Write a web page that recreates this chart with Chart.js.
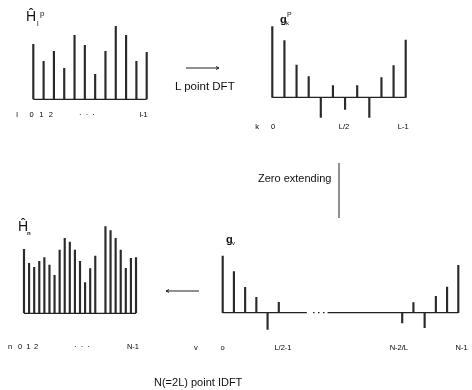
<!DOCTYPE html>
<html>
<head>
<meta charset="utf-8">
<script src="https://cdn.jsdelivr.net/npm/chart.js@4.4.0/dist/chart.umd.min.js"></script>
<style>
    body { margin: 0; background: #fff; }
    #wrap { position: relative; width: 472px; height: 390px; overflow: hidden;
            font-family: "Liberation Sans", Arial, sans-serif; color: #111; }
    #wrap canvas { position: absolute; left: 0; top: 0; }
    .t { position: absolute; white-space: nowrap; line-height: 1; }
    svg { position: absolute; left: 0; top: 0; }
</style>
</head>
<body>
<div id="wrap">
    <canvas id="hlpChart" width="472" height="390"></canvas>
    <canvas id="gkpChart" width="472" height="390"></canvas>
    <canvas id="hnChart" width="472" height="390"></canvas>
    <canvas id="gvChart" width="472" height="390"></canvas>

    <svg width="472" height="390">
        <g stroke="#222" stroke-width="1" fill="none">
            <line x1="186" y1="68" x2="219" y2="68"/>
            <polyline points="216,66.5 219,68 216,69.5"/>
            <line x1="166" y1="291" x2="199" y2="291"/>
            <polyline points="169,289.5 166,291 169,292.5"/>
            <line x1="339" y1="163" x2="339" y2="218"/>
        </g>
    </svg>

    <!-- titles -->
    <div class="t" style="left:26px;top:9px;font-size:14px;">Ĥ</div>
    <div class="t" style="left:37px;top:20px;font-size:7px;">l</div>
    <div class="t" style="left:40px;top:10px;font-size:8px;">p</div>

    <div class="t" style="left:280px;top:14px;font-size:11px;font-weight:bold;">g</div>
    <div class="t" style="left:286px;top:20px;font-size:6px;">k</div>
    <div class="t" style="left:287px;top:11px;font-size:7px;">P</div>

    <div class="t" style="left:18px;top:219px;font-size:14px;">Ĥ</div>
    <div class="t" style="left:27px;top:230px;font-size:6px;font-weight:bold;">n</div>

    <div class="t" style="left:226px;top:234px;font-size:11px;font-weight:bold;">g</div>
    <div class="t" style="left:232px;top:240px;font-size:6px;">v</div>

    <!-- captions -->
    <div class="t" style="left:175px;top:81px;font-size:11.5px;">L point DFT</div>
    <div class="t" style="left:258px;top:173px;font-size:11px;">Zero extending</div>
    <div class="t" style="left:154px;top:377px;font-size:11px;">N(=2L) point IDFT</div>
</div>

<script>
// Ĥ_l^p : L point input
const hlpLabels = ['0', '1', '2', '3', '4', '5', '6', '7', '8', '9', '10', '11'];
const hlpValues = [55, 38, 48, 31, 64, 54, 25, 48, 73, 64, 38, 47];
const hlpTickPos = [-1.58, -0.16, 0.78, 1.69, 5.2, 10.7];
const hlpTickText = ['l', '0', '1', '2', '·  ·  ·', 'l-1'];

// g_k^p : L point DFT
const gkpLabels = ['0', '1', '2', '3', '4', '5', '6', '7', '8', '9', '10', '11'];
const gkpValues = [70.7, 56.7, 32.3, 20.7, -20, 11.7, -12, 11.7, -20, 19.7, 31.7, 57.3];
const gkpTickPos = [-1.26, 0.06, 5.91, 10.8];
const gkpTickText = ['k', '0', 'L/2', 'L-1'];

// Ĥ_n : N point output
const hnLabels = ['0', '1', '2', '3', '4', '5', '6', '7', '8', '9', '10', '11',
                  '12', '13', '14', '15', '16', '17', '18', '19', '20', '21', '22'];
const hnValues = [64, 50, 46, 52, 55.7, 48.3, 38, 63.3, 75, 71.3, 63.3, 52,
                  30.7, 44.7, 57.3, 0, 86.7, 82.7, 75, 63.3, 45, 55, 55.7];
const hnTickPos = [-2.75, -0.79, 0.85, 2.36, 11.4, 21.4];
const hnTickText = ['n', '0', '1', '2', '·  ·  ·', 'N-1'];

// g_v : zero extended sequence (middle part is zero)
const gvLabels = ['0', '1', '2', '3', '4', '5', '6', '7', '8', '9', '10', '11',
                  '12', '13', '14', '15', '16', '17', '18', '19', '20', '21'];
const gvValues = [56.7, 41, 25.3, 15.3, -16.7, 10.3, null, null, null, null, null, null,
                  null, null, null, null, -10.3, 10, -15, 16.3, 25.7, 47.3];
const gvTickPos = [-2.4, 0, 5.37, 15.7, 21.3];
const gvTickText = ['v', 'o', 'L/2-1', 'N-2/L', 'N-1'];

// baseline and the labels under it
const stemAxis = {
    id: 'stemAxis',
    afterDatasetsDraw(chart, args, opts) {
        const ctx = chart.ctx;
        const xs = chart.scales.x;
        const y0 = chart.scales.y.getPixelForValue(0);
        ctx.save();
        ctx.strokeStyle = '#222';
        ctx.lineWidth = 1.3;
        opts.segments.forEach(seg => {
            ctx.setLineDash(seg[2] ? [1.5, 3.5] : []);
            ctx.beginPath();
            ctx.moveTo(xs.getPixelForValue(seg[0]), y0);
            ctx.lineTo(xs.getPixelForValue(seg[1]), y0);
            ctx.stroke();
        });
        ctx.setLineDash([]);
        ctx.fillStyle = '#000';
        ctx.font = '7.5px "Liberation Sans", Arial, sans-serif';
        ctx.textAlign = 'center';
        ctx.textBaseline = 'middle';
        opts.tickPos.forEach((p, i) => {
            ctx.fillText(opts.tickText[i], xs.getPixelForValue(p), y0 + opts.gap);
        });
        ctx.restore();
    }
};

function stemChart(id, labels, values, box, axis) {
    const n = labels.length;
    const step = (box.xLast - box.x0) / (n - 1);
    return new Chart(document.getElementById(id), {
        type: 'bar',
        data: {
            labels: labels,
            datasets: [{
                data: values,
                backgroundColor: '#2a2a2a',
                borderWidth: 0,
                barThickness: 1.5
            }]
        },
        options: {
            responsive: false,
            animation: false,
            events: [],
            layout: {
                padding: {
                    left: box.x0 - step / 2,
                    right: 472 - (box.xLast + step / 2),
                    top: box.base - box.yMax,
                    bottom: 390 - (box.base - box.yMin)
                }
            },
            plugins: {
                legend: { display: false },
                tooltip: { enabled: false },
                stemAxis: axis
            },
            scales: {
                x: { display: false, offset: true },
                y: { display: false, min: box.yMin, max: box.yMax }
            }
        },
        plugins: [stemAxis]
    });
}

stemChart('hlpChart', hlpLabels, hlpValues,
    { x0: 33.3, xLast: 146.7, base: 99.3, yMin: 0, yMax: 80 },
    { segments: [[0, 11]], tickPos: hlpTickPos, tickText: hlpTickText, gap: 16 });

stemChart('gkpChart', gkpLabels, gkpValues,
    { x0: 272.3, xLast: 405.7, base: 97.3, yMin: -30, yMax: 75 },
    { segments: [[0, 11]], tickPos: gkpTickPos, tickText: gkpTickText, gap: 29.5 });

stemChart('hnChart', hnLabels, hnValues,
    { x0: 24, xLast: 136, base: 313.3, yMin: 0, yMax: 90 },
    { segments: [[0, 22]], tickPos: hnTickPos, tickText: hnTickText, gap: 34 });

stemChart('gvChart', gvLabels, gvValues,
    { x0: 222.7, xLast: 458.3, base: 312.7, yMin: -20, yMax: 60 },
    { segments: [[0, 7.5], [8.05, 9.2, true], [9.35, 21]], tickPos: gvTickPos, tickText: gvTickText, gap: 35 });
</script>
</body>
</html>
